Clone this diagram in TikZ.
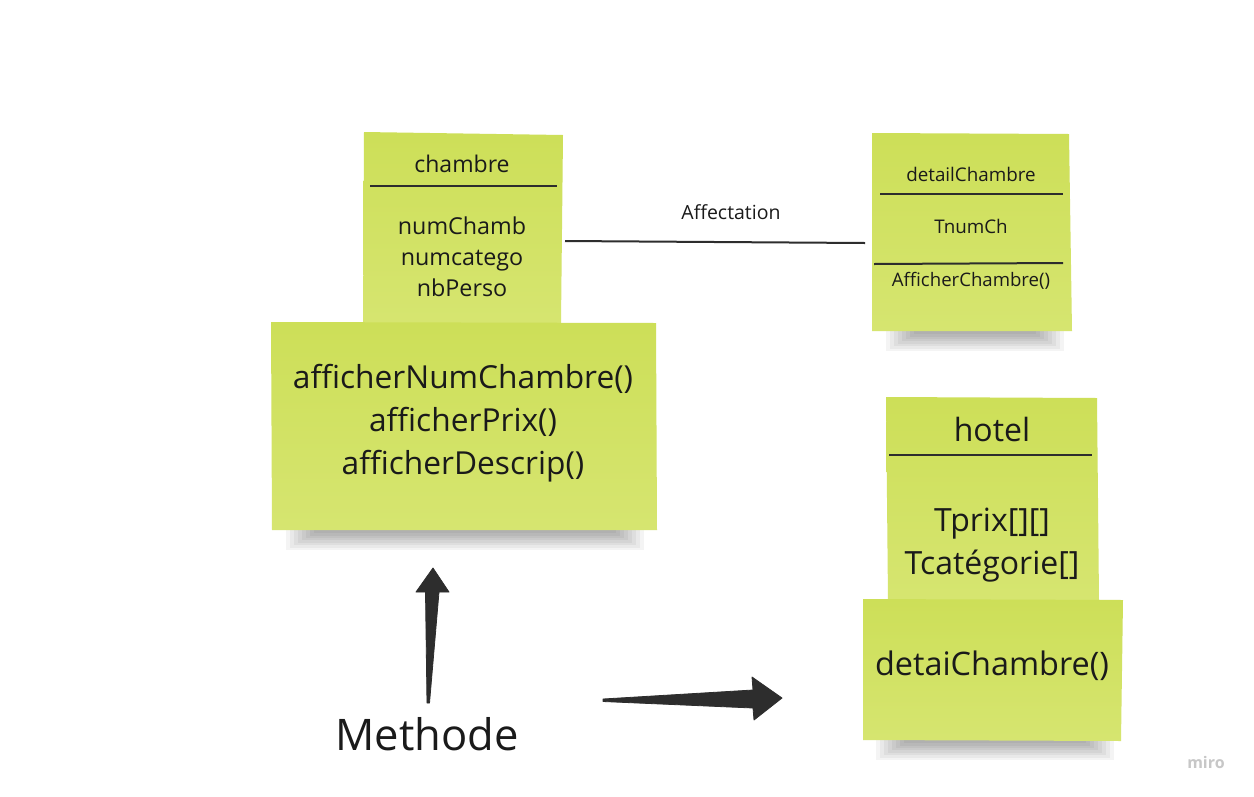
\documentclass[tikz,border=0pt]{standalone}
\usepackage{fontspec}
\setmainfont{Open Sans}
\usetikzlibrary{calc}
\definecolor{notetop}{RGB}{205,223,88}
\definecolor{notebot}{RGB}{214,229,112}
\definecolor{ink}{RGB}{26,26,26}
\definecolor{linec}{RGB}{45,45,45}
\tikzset{
  note/.style={top color=notetop, bottom color=notebot, draw=none},
  sep/.style={draw=linec, line width=2.2pt},
  txt/.style={anchor=base, inner sep=0pt, text=ink},
  arrowfill/.style={fill=linec, draw=linec, line width=0.8pt, line join=round},
}
\newcommand{\fs}[1]{\fontsize{#1}{#1}\selectfont}
\newcommand{\softshadow}[3]{%
  \foreach \i in {0,...,7}{%
    \fill[black, opacity=0.045] ({#1+6+4*\i},#3) rectangle ({#2-6-4*\i},{#3+22-2.4*\i});
  }}
\begin{document}
\begin{tikzpicture}[x=1pt,y=-1pt]
\useasboundingbox[fill=white] (0,0) rectangle (1254,796);
% shadows
\softshadow{280}{650}{528}
\softshadow{880}{1070}{329}
\softshadow{870}{1120}{738}
% chambre
\shade[note] (364,132) -- (563,135) -- (561,323) -- (363,323) -- cycle;
\draw[sep] (370,186) -- (557,186);
\node[txt,font=\fs{23}] (chambre) at (462,172) {chambre};
\node[txt,font=\fs{23.3}] (a1) at (462,234) {numChamb};
\node[txt,font=\fs{23.3}] (a2) at (462,265) {numcatego};
\node[txt,font=\fs{23.3}] (a3) at (462,296) {nbPerso};
\shade[note] (271,322) -- (656,323) -- (657,530) -- (272,530) -- cycle;
\node[txt,font=\fs{31.7}] (m1) at (463,388) {afficherNumChambre()};
\node[txt,font=\fs{31.7}] (m2) at (463,431) {afficherPrix()};
\node[txt,font=\fs{31.7}] (m3) at (463,474) {afficherDescrip()};
% detailChambre
\shade[note] (872,133) -- (1069,134) -- (1072,331) -- (872,331) -- cycle;
\draw[sep,line width=2pt] (880,194) -- (1063,194);
\draw[sep,line width=2pt] (874,264) -- (1063,263);
\node[txt,font=\fs{18.8}] (dc) at (971,181) {detailChambre};
\node[txt,font=\fs{18.8}] (tn) at (971,233) {TnumCh};
\node[txt,font=\fs{18.6}] (ac) at (971,286) {AfficherChambre()};
% association
\coordinate (l1) at (565,241);
\coordinate (l2) at (865,243);
\draw[linec, line width=2pt] (l1) -- (l2);
\node[txt,font=\fs{19.5}] (aff) at (731,219) {Affectation};
% hotel
\shade[note] (886,397) -- (1097,398) -- (1099,600) -- (888,600) -- cycle;
\draw[sep] (889,455) -- (1092,455);
\node[txt,font=\fs{32}] (hotel) at (992,441) {hotel};
\node[txt,font=\fs{32}] (h1) at (992,531) {Tprix[][]};
\node[txt,font=\fs{32}] (h2) at (992,574) {Tcatégorie[]};
\shade[note] (863,599) -- (1123,600) -- (1121,741) -- (863,740) -- cycle;
\node[txt,font=\fs{32.4}] (h3) at (992,675) {detaiChambre()};
% Methode
\node[txt,font=\fs{43.5}] (meth) at (427,750) {Methode};
% arrows (tapered)
\coordinate (u0) at (428,703);
\coordinate (u1) at (433,568);
\fill[arrowfill] (427,703) -- (425.5,592) -- (416,592) -- (u1) -- (449,592) -- (439,592) -- (429.5,703) -- cycle;
\coordinate (r0) at (603,700);
\coordinate (r1) at (782,698);
\fill[arrowfill] (603,699) -- (753,690) -- (752,677) -- (r1) -- (754,720) -- (753,708) -- (603,701.5) -- cycle;
% watermark
\node[txt,font=\fs{16}\bfseries, text=black!22] (miro) at (1206,768) {miro};
\end{tikzpicture}
\end{document}
